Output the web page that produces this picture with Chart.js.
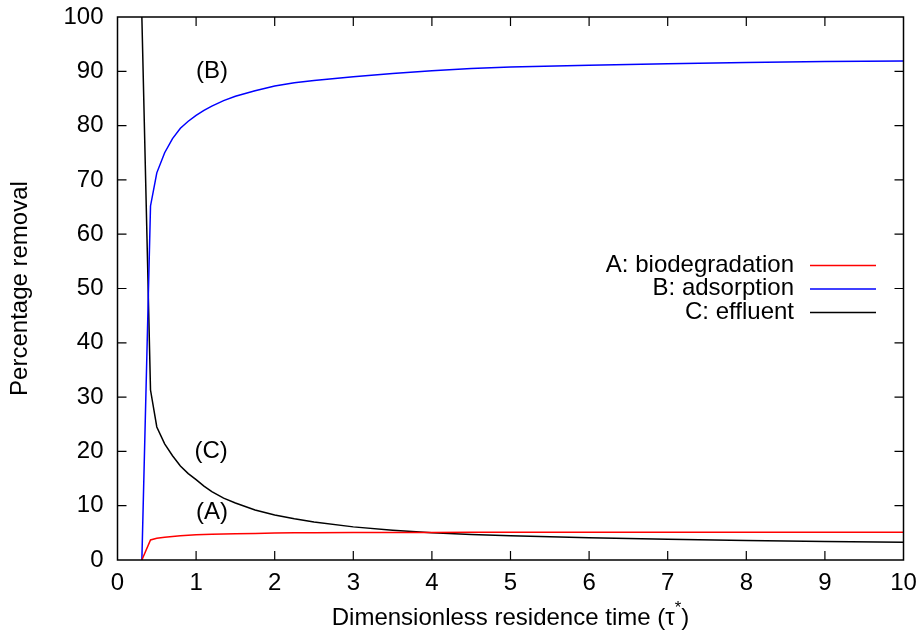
<!DOCTYPE html>
<html>
<head>
<meta charset="utf-8">
<script src="https://cdn.jsdelivr.net/npm/chart.js@4/dist/chart.umd.min.js"></script>
<style>
  html, body { margin: 0; padding: 0; background: #ffffff; }
  #wrap { width: 922px; height: 639px; position: relative; }
</style>
</head>
<body>
<div id="wrap"><canvas id="c" width="922" height="639"></canvas></div>
<script>
// Dimensionless residence time (tau*)
const tau = [0.31, 0.42, 0.5, 0.6, 0.7, 0.8, 0.9, 1.0, 1.1, 1.2, 1.35, 1.5, 1.75, 2.0, 2.25, 2.5, 3.0, 3.5, 4, 4.5, 5, 6, 7, 8, 9, 10];
// A: biodegradation
const biodegradation = [0, 3.7, 4.0, 4.2, 4.35, 4.45, 4.55, 4.65, 4.7, 4.75, 4.8, 4.85, 4.9, 4.95, 5.0, 5.0, 5.05, 5.05, 5.05, 5.1, 5.1, 5.1, 5.1, 5.1, 5.1, 5.1];
// B: adsorption
const adsorption = [0, 65.2, 71.3, 75.0, 77.6, 79.5, 80.8, 81.9, 82.8, 83.6, 84.6, 85.4, 86.4, 87.3, 87.9, 88.3, 89.0, 89.6, 90.1, 90.5, 90.8, 91.1, 91.4, 91.6, 91.8, 91.9];
// C: effluent
const effluent = [100, 31.3, 24.5, 21.4, 19.2, 17.3, 15.9, 14.8, 13.6, 12.6, 11.4, 10.5, 9.2, 8.3, 7.6, 7.0, 6.1, 5.5, 5.0, 4.7, 4.45, 4.1, 3.8, 3.6, 3.4, 3.25];

const seriesLabels = ["A: biodegradation", "B: adsorption", "C: effluent"];
const xTicks = [0, 1, 2, 3, 4, 5, 6, 7, 8, 9, 10];
const yTicks = [0, 10, 20, 30, 40, 50, 60, 70, 80, 90, 100];
const curveLabels = [
  { text: "(B)", x: 1.0, y: 90 },
  { text: "(C)", x: 0.98, y: 20 },
  { text: "(A)", x: 1.0, y: 8.8 }
];
const xTitle = "Dimensionless residence time (\u03C4";
const yTitle = "Percentage removal";

const FONT = '"Liberation Sans", Arial, Helvetica, sans-serif';
const FS = 24;

function pts(ys) { return tau.map((t, i) => ({ x: t, y: ys[i] })); }

const framePlugin = {
  id: 'gnuframe',
  afterDraw(chart) {
    const ctx = chart.ctx;
    const a = chart.chartArea;
    const xs = chart.scales.x, ys = chart.scales.y;
    ctx.save();
    ctx.fillStyle = '#000';
    ctx.font = FS + 'px ' + FONT;
    ctx.textAlign = 'left';
    ctx.textBaseline = 'middle';
    curveLabels.forEach(l => {
      ctx.fillText(l.text, xs.getPixelForValue(l.x), ys.getPixelForValue(l.y));
    });
    // legend (gnuplot style)
    const ds = chart.data.datasets;
    const textRight = 794, lineL = 810, lineR = 876, row0 = 265, rowH = 23.5;
    ds.forEach((d, i) => {
      const y = row0 + i * rowH;
      ctx.fillStyle = '#000';
      ctx.textAlign = 'right';
      ctx.fillText(d.label, textRight, y);
      ctx.strokeStyle = d.borderColor;
      ctx.lineWidth = 1.5;
      ctx.beginPath();
      ctx.moveTo(lineL, y + 0.5);
      ctx.lineTo(lineR, y + 0.5);
      ctx.stroke();
    });
    // frame
    ctx.strokeStyle = '#000';
    ctx.lineWidth = 1.5;
    ctx.strokeRect(a.left, a.top, a.right - a.left, a.bottom - a.top);
    // inward ticks, mirrored
    const tl = 9;
    ctx.lineWidth = 1.2;
    ctx.beginPath();
    xTicks.forEach(v => {
      if (v === 0 || v === 10) return;
      const px = xs.getPixelForValue(v);
      ctx.moveTo(px, a.bottom); ctx.lineTo(px, a.bottom - tl);
      ctx.moveTo(px, a.top); ctx.lineTo(px, a.top + tl);
    });
    yTicks.forEach(v => {
      if (v === 0 || v === 100) return;
      const py = ys.getPixelForValue(v);
      ctx.moveTo(a.left, py); ctx.lineTo(a.left + tl, py);
      ctx.moveTo(a.right, py); ctx.lineTo(a.right - tl, py);
    });
    ctx.stroke();
    // axis titles
    ctx.fillStyle = '#000';
    ctx.font = FS + 'px ' + FONT;
    ctx.textBaseline = 'middle';
    const sup = '*';
    const closeP = ')';
    const wMain = ctx.measureText(xTitle).width;
    ctx.font = (FS * 0.7) + 'px ' + FONT;
    const wSup = ctx.measureText(sup).width;
    ctx.font = FS + 'px ' + FONT;
    const wClose = ctx.measureText(closeP).width;
    const total = wMain + wSup + wClose;
    const cx = (a.left + a.right) / 2;
    const x0 = cx - total / 2;
    const ty = 618;
    ctx.textAlign = 'left';
    ctx.fillText(xTitle, x0, ty);
    ctx.font = (FS * 0.7) + 'px ' + FONT;
    ctx.fillText(sup, x0 + wMain, ty - 10);
    ctx.font = FS + 'px ' + FONT;
    ctx.fillText(closeP, x0 + wMain + wSup, ty);
    ctx.save();
    ctx.translate(20, (a.top + a.bottom) / 2);
    ctx.rotate(-Math.PI / 2);
    ctx.textAlign = 'center';
    ctx.fillText(yTitle, 0, 0);
    ctx.restore();
    ctx.restore();
  }
};

new Chart(document.getElementById('c'), {
  type: 'line',
  data: {
    datasets: [
      { label: seriesLabels[0], data: pts(biodegradation), borderColor: '#ff0000' },
      { label: seriesLabels[1], data: pts(adsorption), borderColor: '#0000ff' },
      { label: seriesLabels[2], data: pts(effluent), borderColor: '#000000' }
    ]
  },
  options: {
    responsive: false,
    animation: false,
    devicePixelRatio: 1,
    layout: { padding: { left: 0, top: 17, right: 18.5, bottom: 0 } },
    elements: {
      line: { borderWidth: 1.5, tension: 0, fill: false },
      point: { radius: 0 }
    },
    plugins: { legend: { display: false }, tooltip: { enabled: false } },
    scales: {
      x: {
        type: 'linear', min: 0, max: 10,
        afterFit(s) { s.height = 79; s.paddingLeft = 0; s.paddingRight = 0; },
        afterBuildTicks(s) { s.ticks = xTicks.map(v => ({ value: v })); },
        grid: { display: false, drawTicks: false },
        border: { display: false },
        ticks: { color: '#000', font: { family: FONT, size: FS }, padding: 9, maxRotation: 0, autoSkip: false }
      },
      y: {
        type: 'linear', min: 0, max: 100,
        afterFit(s) { s.width = 117.5; s.paddingTop = 0; s.paddingBottom = 0; },
        afterBuildTicks(s) { s.ticks = yTicks.map(v => ({ value: v })); },
        grid: { display: false, drawTicks: false },
        border: { display: false },
        ticks: { color: '#000', font: { family: FONT, size: FS }, padding: 14, autoSkip: false }
      }
    }
  },
  plugins: [framePlugin]
});
</script>
</body>
</html>
